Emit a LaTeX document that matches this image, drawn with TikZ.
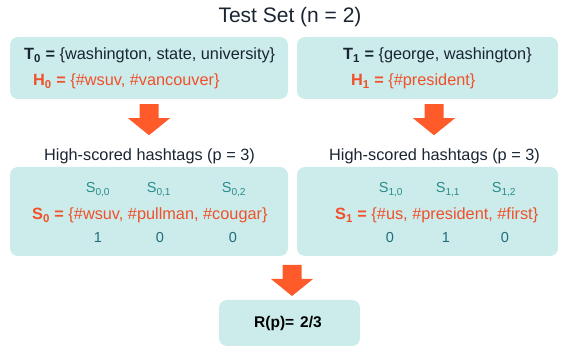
\documentclass[tikz,border=0pt]{standalone}
\usepackage{fontspec}
\setmainfont{Liberation Sans}
\usetikzlibrary{positioning,calc}
\definecolor{boxC}{HTML}{CCECEC}
\definecolor{tagC}{HTML}{F0502A}
\definecolor{arrC}{HTML}{FF5A2A}
\definecolor{inkC}{HTML}{1A2533}
\definecolor{idxC}{HTML}{2B8C8C}
\definecolor{bitC}{HTML}{1F6E78}
\tikzset{
  panel/.style={rectangle, rounded corners=8pt, fill=boxC, inner sep=0pt},
  txt/.style={inner sep=0pt, anchor=base west, font=\fontsize{16.3}{18}\selectfont, text=#1},
  idx/.style={inner sep=0pt, anchor=base, font=\fontsize{14.5}{16}\selectfont, text=idxC},
  bit/.style={inner sep=0pt, anchor=base, font=\fontsize{14.5}{16}\selectfont, text=bitC},
  downarr/.pic={\fill[arrC] (-9.5,0) -- (9.5,0) -- (9.5,14) -- (21,14) -- (0,31) -- (-21,14) -- (-9.5,14) -- cycle;},
}
\begin{document}
\begin{tikzpicture}[x=1pt, y=-1pt]
  \useasboundingbox (0,0) rectangle (568,347);
  % title
  \node[inner sep=0pt, anchor=base, font=\fontsize{21}{24}\selectfont, text=inkC] (title) at (290,23) {Test Set (n = 2)};
  % tweet boxes
  \node[panel, minimum width=278pt, minimum height=62pt] (t0box) at (149,68) {};
  \node[panel, minimum width=261pt, minimum height=62pt] (t1box) at (427.5,68) {};
  \node[txt=inkC] (t0) at (24,60) {\textbf{T\textsubscript{0} =} \{washington, state, university\}};
  \node[txt=tagC] (h0) at (33,86) {\textbf{H\textsubscript{0} =} \{\#wsuv, \#vancouver\}};
  \node[txt=inkC] (t1) at (343,60) {\textbf{T\textsubscript{1} =} \{george, washington\}};
  \node[txt=tagC] (h1) at (351,86) {\textbf{H\textsubscript{1} =} \{\#president\}};
  \pic at ($(t0box.south)+(0,5)$) {downarr};
  \pic at ($(t1box.south)+(6.5,5)$) {downarr};
  % hashtag boxes
  \node[txt=inkC] (p0) at (44,161) {High-scored hashtags (p = 3)};
  \node[txt=inkC] (p1) at (329,161) {High-scored hashtags (p = 3)};
  \node[panel, minimum width=278pt, minimum height=89pt] (s0box) at (149,211.5) {};
  \node[panel, minimum width=261pt, minimum height=89pt] (s1box) at (427.5,211.5) {};
  \node[idx] (s00) at (98,193) {S\textsubscript{0,0}};
  \node[idx] (s01) at (159,193) {S\textsubscript{0,1}};
  \node[idx] (s02) at (234,193) {S\textsubscript{0,2}};
  \node[txt=tagC] (s0) at (32,220) {\textbf{S\textsubscript{0} =} \{\#wsuv, \#pullman, \#cougar\}};
  \node[bit] (b00) at (98,243) {1};
  \node[bit] (b01) at (160,243) {0};
  \node[bit] (b02) at (233,243) {0};
  \node[idx] (s10) at (391,193) {S\textsubscript{1,0}};
  \node[idx] (s11) at (448,193) {S\textsubscript{1,1}};
  \node[idx] (s12) at (504,193) {S\textsubscript{1,2}};
  \node[txt=tagC] (s1) at (335,220) {\textbf{S\textsubscript{1} =} \{\#us, \#president, \#first\}};
  \node[bit] (b10) at (390,243) {0};
  \node[bit] (b11) at (446,243) {1};
  \node[bit] (b12) at (505,243) {0};
  \pic at (292,265) {downarr};
  % result
  \node[panel, minimum width=141pt, minimum height=46pt] (rbox) at (289.5,323) {};
  \node[txt=black, font=\fontsize{15.5}{17}\selectfont\bfseries] (r) at (254,328) {R(p)=\hspace{6pt}2/3};
\end{tikzpicture}
\end{document}
